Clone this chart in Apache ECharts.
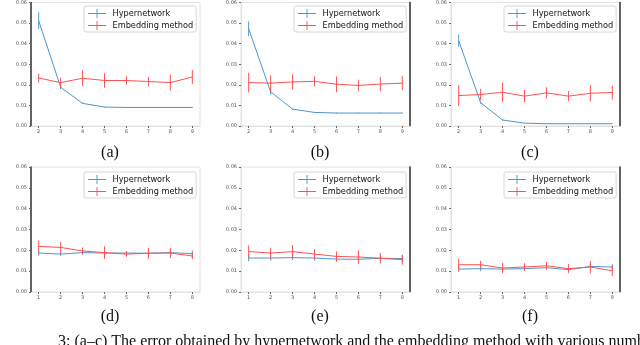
<!DOCTYPE html>
<html>
<head>
<meta charset="utf-8">
<script src="https://cdn.jsdelivr.net/npm/echarts@6/dist/echarts.min.js"></script>
<style>
  html, body { margin: 0; padding: 0; background: #fff; }
  #chart { width: 640px; height: 345px; }
</style>
</head>
<body>
<div id="chart"></div>
<script>
  // x values: top row uses 2..9, bottom row 1..8
  var xTop = [2, 3, 4, 5, 6, 7, 8, 9];
  var xBottom = [1, 2, 3, 4, 5, 6, 7, 8];

  // (a)
  var hyperA = [0.0512, 0.0188, 0.0110, 0.0092, 0.0090, 0.0090, 0.0090, 0.0090];
  var hyperAErr = [0.0040, 0.0010, 0.0003, 0.0002, 0.0002, 0.0002, 0.0002, 0.0002];
  var embedA = [0.0233, 0.0211, 0.0232, 0.0221, 0.0221, 0.0216, 0.0211, 0.0238];
  var embedAErr = [0.0022, 0.0024, 0.0039, 0.0035, 0.0020, 0.0023, 0.0039, 0.0034];
  // (b)
  var hyperB = [0.0472, 0.0166, 0.0082, 0.0066, 0.0063, 0.0063, 0.0063, 0.0063];
  var hyperBErr = [0.0036, 0.0015, 0.0003, 0.0002, 0.0002, 0.0002, 0.0002, 0.0002];
  var embedB = [0.0211, 0.0208, 0.0214, 0.0217, 0.0203, 0.0197, 0.0204, 0.0208];
  var embedBErr = [0.0048, 0.0038, 0.0037, 0.0024, 0.0038, 0.0028, 0.0035, 0.0034];
  // (c)
  var hyperC = [0.0415, 0.0113, 0.0029, 0.0014, 0.0011, 0.0011, 0.0011, 0.0011];
  var hyperCErr = [0.0030, 0.0005, 0.0003, 0.0001, 0.0001, 0.0001, 0.0001, 0.0001];
  var embedC = [0.0148, 0.0153, 0.0164, 0.0145, 0.0161, 0.0145, 0.0159, 0.0163];
  var embedCErr = [0.0051, 0.0028, 0.0047, 0.0030, 0.0027, 0.0025, 0.0040, 0.0034];
  // (d)
  var hyperD = [0.0187, 0.0182, 0.0189, 0.0187, 0.0187, 0.0186, 0.0189, 0.0184];
  var hyperDErr = [0.0013, 0.0010, 0.0010, 0.0010, 0.0010, 0.0010, 0.0010, 0.0016];
  var embedD = [0.0219, 0.0214, 0.0197, 0.0189, 0.0182, 0.0186, 0.0187, 0.0173];
  var embedDErr = [0.0028, 0.0026, 0.0017, 0.0030, 0.0013, 0.0026, 0.0024, 0.0016];
  // (e)
  var hyperE = [0.0163, 0.0163, 0.0165, 0.0163, 0.0158, 0.0157, 0.0162, 0.0160];
  var hyperEErr = [0.0016, 0.0012, 0.0012, 0.0012, 0.0012, 0.0012, 0.0012, 0.0016];
  var embedE = [0.0194, 0.0187, 0.0194, 0.0182, 0.0171, 0.0168, 0.0162, 0.0155];
  var embedEErr = [0.0030, 0.0026, 0.0032, 0.0024, 0.0024, 0.0032, 0.0025, 0.0024];
  // (f)
  var hyperF = [0.0110, 0.0112, 0.0110, 0.0112, 0.0117, 0.0107, 0.0123, 0.0120];
  var hyperFErr = [0.0013, 0.0012, 0.0010, 0.0010, 0.0010, 0.0010, 0.0010, 0.0013];
  var embedF = [0.0131, 0.0131, 0.0115, 0.0120, 0.0126, 0.0112, 0.0120, 0.0102];
  var embedFErr = [0.0030, 0.0019, 0.0024, 0.0018, 0.0019, 0.0022, 0.0030, 0.0026];

  var captions = ['(a)', '(b)', '(c)', '(d)', '(e)', '(f)'];
  var captionText = '3: (a\u2013c) The error obtained by hypernetwork and the embedding method with various number';

  var blue = '#4f95cf';
  var red = '#ff5252';

  var panels = [
    {x: xTop, h: hyperA, he: hyperAErr, e: embedA, ee: embedAErr, left: 31, top: 2, height: 124, dark: 'left'},
    {x: xTop, h: hyperB, he: hyperBErr, e: embedB, ee: embedBErr, left: 241, top: 2, height: 124, dark: 'right'},
    {x: xTop, h: hyperC, he: hyperCErr, e: embedC, ee: embedCErr, left: 451, top: 2, height: 124, dark: 'right'},
    {x: xBottom, h: hyperD, he: hyperDErr, e: embedD, ee: embedDErr, left: 31, top: 167, height: 125, dark: 'left'},
    {x: xBottom, h: hyperE, he: hyperEErr, e: embedE, ee: embedEErr, left: 241, top: 167, height: 125, dark: 'right'},
    {x: xBottom, h: hyperF, he: hyperFErr, e: embedF, ee: embedFErr, left: 451, top: 167, height: 125, dark: 'right'}
  ];

  var legendIcon = 'path://M0,4.5L20,4.5L20,5.5L0,5.5Z M9.5,0L10.5,0L10.5,10L9.5,10Z';

  function errorBars(x, v, err, color, idx) {
    return {
      type: 'custom',
      xAxisIndex: idx,
      yAxisIndex: idx * 2,
      silent: true,
      z: color === red ? 4 : 2,
      data: x.map(function (xv, j) { return [xv, v[j] - err[j], v[j] + err[j]]; }),
      encode: {x: 0, y: [1, 2]},
      renderItem: function (params, api) {
        var p1 = api.coord([api.value(0), api.value(1)]);
        var p2 = api.coord([api.value(0), api.value(2)]);
        return {
          type: 'line',
          shape: {x1: p1[0], y1: p1[1], x2: p2[0], y2: p2[1]},
          style: {stroke: color, lineWidth: 1}
        };
      }
    };
  }

  var grids = [], xAxes = [], yAxes = [], series = [], legends = [], graphics = [];

  panels.forEach(function (p, i) {
    var lo = p.x[0] - 0.35, hi = p.x[p.x.length - 1] + 0.35;
    grids.push({left: p.left, top: p.top, width: 169, height: p.height, show: true,
      borderColor: '#e2e2e2', borderWidth: 1, backgroundColor: 'transparent'});
    xAxes.push({
      type: 'value', gridIndex: i, min: lo, max: hi,
      splitLine: {show: false},
      axisLine: {lineStyle: {color: '#e2e2e2'}},
      axisTick: {length: 2, lineStyle: {color: '#666'}, customValues: p.x},
      axisLabel: {fontSize: 5, color: '#555', margin: 3, customValues: p.x,
        formatter: function (v) { return String(Math.round(v)); }}
    });
    yAxes.push({
      type: 'value', gridIndex: i, min: 0, max: 0.06, interval: 0.01,
      splitLine: {show: false},
      axisLine: {show: true, lineStyle: {color: p.dark === 'left' ? '#333' : '#e2e2e2', width: p.dark === 'left' ? 1.5 : 1}},
      axisTick: {show: true, length: 2, lineStyle: {color: '#666'}},
      axisLabel: {fontSize: 5, color: '#555', margin: 4,
        formatter: function (v) { return v.toFixed(2); }}
    });
    yAxes.push({
      type: 'value', gridIndex: i, min: 0, max: 0.06, position: 'right',
      splitLine: {show: false}, axisTick: {show: false}, axisLabel: {show: false},
      axisLine: {show: p.dark === 'right', lineStyle: {color: '#333', width: 1.5}}
    });

    series.push({
      name: 'Hypernetwork', type: 'line', xAxisIndex: i, yAxisIndex: i * 2,
      symbol: 'none', z: 2, color: blue,
      lineStyle: {width: 1, color: blue},
      data: p.x.map(function (xv, j) { return [xv, p.h[j]]; })
    });
    series.push(errorBars(p.x, p.h, p.he, blue, i));
    series.push({
      name: 'Embedding method', type: 'line', xAxisIndex: i, yAxisIndex: i * 2,
      symbol: 'none', z: 4, color: red,
      lineStyle: {width: 1, color: red},
      data: p.x.map(function (xv, j) { return [xv, p.e[j]]; })
    });
    series.push(errorBars(p.x, p.e, p.ee, red, i));

    legends.push({
      data: ['Hypernetwork', 'Embedding method'],
      orient: 'vertical',
      left: p.left + (i % 3 === 2 ? 53 : 53),
      top: p.top + (i < 3 ? 4 : 5),
      icon: legendIcon,
      itemWidth: 19, itemHeight: 9, itemGap: 3,
      padding: [3, 3, 2, 4],
      backgroundColor: '#fff',
      borderColor: '#d6d6d6', borderWidth: 1, borderRadius: 2,
      selectedMode: false,
      textStyle: {fontSize: 8.2, color: '#111', fontFamily: 'DejaVu Sans', padding: [0, 0, 0, 1]}
    });

    graphics.push({
      type: 'text',
      x: p.left + 79,
      y: i < 3 ? 145 : 309,
      style: {text: captions[i], font: '16px "Liberation Serif"', fill: '#111', textAlign: 'center'}
    });
  });

  graphics.push({
    type: 'text', x: 58, y: 334,
    style: {text: captionText, font: '16px "Liberation Serif"', fill: '#111'}
  });

  var chart = echarts.init(document.getElementById('chart'), null, {renderer: 'canvas'});
  chart.setOption({
    animation: false,
    backgroundColor: '#fff',
    textStyle: {fontFamily: 'DejaVu Sans'},
    grid: grids,
    xAxis: xAxes,
    yAxis: yAxes,
    legend: legends,
    series: series,
    graphic: graphics
  });
</script>
</body>
</html>
